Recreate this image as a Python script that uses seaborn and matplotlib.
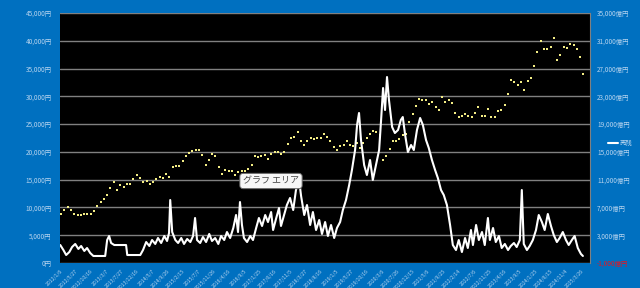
import numpy as np
import pandas as pd
import matplotlib
matplotlib.use("Agg")
import matplotlib.pyplot as plt
from matplotlib.lines import Line2D
import seaborn as sns

# ---------------- data ----------------
# yellow dots: stock price (left axis, 円), monthly readings per year
price_2012 = [8800, 9500, 10000, 9600, 8800, 8700, 8700, 8900, 8900, 8900, 9300, 10200]
price_2013 = [11000, 11500, 12200, 13500, 14500, 13200, 14000, 13600, 14300, 14300, 15200, 15900]
price_2014 = [15300, 14600, 14800, 14300, 14600, 15100, 15400, 15300, 16000, 15500, 17300, 17500]
price_2015 = [17400, 18300, 19200, 19800, 20200, 20400, 20400, 19500, 17700, 18600, 19700, 19300]
price_2016 = [17300, 16100, 16800, 16600, 16600, 15800, 16300, 16600, 16600, 17000, 17700, 19200]
price_2017 = [19100, 19200, 19400, 18700, 19600, 20000, 20000, 19600, 20000, 21500, 22500, 22700]
price_2018 = [23600, 21900, 21300, 22000, 22500, 22400, 22500, 22500, 23300, 22600, 21900, 20800]
price_2019 = [20300, 21000, 21300, 22000, 21200, 21100, 21600, 20700, 21600, 22500, 23300, 23700]
price_2020 = [23600, 23100, 18500, 19200, 20500, 22000, 22000, 22400, 23000, 23300, 25300, 26800]
price_2021 = [28200, 29500, 29300, 29300, 28600, 28900, 28000, 27600, 29800, 28900, 29300, 28800]
price_2022 = [27000, 26300, 26500, 26800, 26400, 26200, 27000, 28000, 26500, 26500, 27800, 26200]
price_2023 = [26200, 27400, 27500, 28400, 30500, 33000, 32600, 32000, 32600, 31100, 32800, 33300]
price_2024 = [35500, 38000, 40000, 38500, 38600, 38800, 40500, 36500, 37500, 38800, 38700, 39400]
price_2025 = [39300, 38500, 37000, 34000]

# white line: balance (right axis, 億円), decimal-year dates
flow_year = [
    2012.02, 2012.10, 2012.17, 2012.25, 2012.32, 2012.40, 2012.48, 2012.55, 2012.63, 2012.70,
    2012.78, 2012.86, 2012.96, 2013.06, 2013.16, 2013.21, 2013.26, 2013.31, 2013.39, 2013.54,
    2013.69, 2013.72, 2013.87, 2014.05, 2014.12, 2014.20, 2014.28, 2014.35, 2014.43, 2014.50,
    2014.58, 2014.66, 2014.73, 2014.78, 2014.81, 2014.86, 2014.94, 2015.01, 2015.09, 2015.16,
    2015.24, 2015.32, 2015.39, 2015.44, 2015.49, 2015.57, 2015.64, 2015.72, 2015.80, 2015.87,
    2015.95, 2016.03, 2016.10, 2016.18, 2016.25, 2016.33, 2016.41, 2016.48, 2016.53, 2016.58,
    2016.63, 2016.68, 2016.76, 2016.84, 2016.91, 2016.99, 2017.06, 2017.14, 2017.22, 2017.29,
    2017.37, 2017.42, 2017.50, 2017.57, 2017.62, 2017.70, 2017.77, 2017.85, 2017.93, 2018.00,
    2018.08, 2018.13, 2018.21, 2018.28, 2018.36, 2018.43, 2018.51, 2018.59, 2018.66, 2018.74,
    2018.81, 2018.89, 2018.97, 2019.04, 2019.12, 2019.19, 2019.27, 2019.35, 2019.42, 2019.50,
    2019.55, 2019.60, 2019.65, 2019.73, 2019.80, 2019.88, 2019.95, 2020.03, 2020.11, 2020.16,
    2020.21, 2020.26, 2020.31, 2020.36, 2020.44, 2020.51, 2020.59, 2020.66, 2020.71, 2020.77,
    2020.84, 2020.92, 2020.99, 2021.07, 2021.15, 2021.22, 2021.30, 2021.37, 2021.45, 2021.53,
    2021.60, 2021.68, 2021.75, 2021.83, 2021.91, 2021.98, 2022.06, 2022.13, 2022.21, 2022.29,
    2022.36, 2022.44, 2022.49, 2022.57, 2022.64, 2022.72, 2022.79, 2022.87, 2022.92, 2023.00,
    2023.07, 2023.15, 2023.22, 2023.30, 2023.38, 2023.45, 2023.53, 2023.60, 2023.68, 2023.73,
    2023.78, 2023.86, 2023.93, 2024.01, 2024.09, 2024.16, 2024.24, 2024.31, 2024.39, 2024.47,
    2024.54, 2024.62, 2024.69, 2024.77, 2024.85, 2024.92, 2025.00, 2025.07, 2025.15, 2025.23,
    2025.28,
]
flow_value = [
    1590, 870, 150, 580, 1300, 1740, 1020, 1450, 730, 1160,
    440, 10, 10, 10, 10, 2310, 2890, 1880, 1590, 1590,
    1590, 150, 150, 150, 870, 2020, 1450, 2310, 1740, 2600,
    1880, 2890, 2170, 3320, 8070, 3460, 2310, 1880, 2600, 1740,
    2460, 2020, 2890, 5480, 2310, 1880, 2740, 2020, 3180, 2170,
    2600, 1740, 2890, 2310, 3460, 2600, 4040, 5910, 3460, 7780,
    4470, 2600, 2020, 2890, 2310, 4040, 5480, 4330, 5910, 4900,
    6340, 3750, 5480, 6920, 4330, 5910, 7350, 8360, 6630, 9510,
    10950, 8650, 5910, 7350, 4470, 6340, 3750, 5190, 3180, 4900,
    2890, 4470, 2600, 4040, 4900, 6630, 8070, 10230, 12390, 15270,
    18870, 20600, 16710, 13110, 11670, 13830, 10950, 13110, 15270, 19590,
    24200, 21030, 25780, 22470, 18580, 17720, 18150, 19590, 20020, 17430,
    14980, 15990, 15270, 18150, 19880, 18870, 16710, 15560, 13830, 12390,
    11240, 9510, 8790, 7350, 4470, 1590, 870, 2310, 580, 2600,
    1160, 3750, 1590, 4470, 2310, 3460, 1590, 5480, 2310, 4040,
    2020, 2890, 1160, 1740, 870, 1450, 1880, 1300, 2310, 9510,
    1740, 870, 1450, 2310, 3750, 5910, 4900, 3750, 6060, 4330,
    3030, 2020, 2600, 3460, 2310, 1590, 2310, 2890, 1160, 300,
    10,
]

x_tick_labels = [
    "2012/1/6", "2012/5/27", "2012/10/16", "2013/3/7", "2013/7/27", "2013/12/16",
    "2014/5/7", "2014/9/26", "2015/2/15", "2015/7/7", "2015/11/26", "2016/4/16",
    "2016/9/5", "2017/1/25", "2017/6/16", "2017/11/5", "2018/3/27", "2018/8/16",
    "2019/1/5", "2019/5/27", "2019/10/16", "2020/3/6", "2020/7/26", "2020/12/15",
    "2021/5/6", "2021/9/25", "2022/2/14", "2022/7/6", "2022/11/25", "2023/4/16",
    "2023/9/5", "2024/1/25", "2024/6/15", "2024/11/4", "2025/3/26",
]
left_ticks = [0, 5000, 10000, 15000, 20000, 25000, 30000, 35000, 40000, 45000]
right_ticks = [-1000, 3000, 7000, 11000, 15000, 19000, 23000, 27000, 31000, 35000]
legend_label = "売残"
tooltip_text = "グラフ エリア"

# ---------------- build tables ----------------
price_years = {2012: price_2012, 2013: price_2013, 2014: price_2014, 2015: price_2015,
               2016: price_2016, 2017: price_2017, 2018: price_2018, 2019: price_2019,
               2020: price_2020, 2021: price_2021, 2022: price_2022, 2023: price_2023,
               2024: price_2024, 2025: price_2025}
rows = []
for yr, vals in price_years.items():
    for m, v in enumerate(vals):
        rows.append((yr + (m + 0.5) / 12.0, v))
price_df = pd.DataFrame(rows, columns=["t", "price"])
flow_df = pd.DataFrame({"t": flow_year, "flow": flow_value})

tick_dates = pd.to_datetime(x_tick_labels, format="%Y/%m/%d")
tick_pos = [d.year + (d.dayofyear - 1) / (366 if d.is_leap_year else 365) for d in tick_dates]

# ---------------- style ----------------
sns.set_theme(style="white")
plt.rcParams["font.family"] = ["Noto Sans CJK JP", "DejaVu Sans"]

BLUE = "#0070C0"
LABEL = "#b7d4ef"
GRID = "#808080"

fig = plt.figure(figsize=(6.4, 2.88), dpi=100, facecolor=BLUE)
ax = fig.add_axes([60 / 640, 1 - 263 / 288, 530 / 640, 250 / 288])
ax.set_facecolor("black")
ax2 = ax.twinx()

sns.scatterplot(data=price_df, x="t", y="price", ax=ax, color="#F2EC84",
                s=3, marker="s", linewidth=0, zorder=3, legend=False)
sns.lineplot(data=flow_df, x="t", y="flow", ax=ax2, color="white",
             linewidth=1.5, estimator=None, legend=False, zorder=4)

ax.set_xlim(2012.02, 2025.46)
ax.set_ylim(0, 45000)
ax2.set_ylim(-1000, 35000)

ax.set_yticks(left_ticks)
ax.set_yticklabels([f"{v:,}円" for v in left_ticks])
ax2.set_yticks(right_ticks)
ax2.set_yticklabels([f"{v:,}億円" for v in right_ticks])
for lbl, v in zip(ax2.get_yticklabels(), right_ticks):
    lbl.set_color("#e8141e" if v < 0 else LABEL)

ax.set_xticks(tick_pos)
ax.set_xticklabels(x_tick_labels, rotation=45, ha="right", rotation_mode="anchor")

ax.grid(axis="y", color=GRID, linewidth=1.0)
ax.grid(axis="x", visible=False)
ax2.grid(False)
ax.set_axisbelow(True)

ax.tick_params(axis="y", length=0, pad=6, labelsize=4.6, labelcolor=LABEL)
ax2.tick_params(axis="y", length=0, pad=5, labelsize=4.6)
ax.tick_params(axis="x", length=2, color=GRID, pad=2, labelsize=3.7, labelcolor=LABEL)
ax.set_xlabel("")
ax.set_ylabel("")
ax2.set_xlabel("")
ax2.set_ylabel("")

for sp in ax.spines.values():
    sp.set_visible(False)
for name, sp in ax2.spines.items():
    sp.set_visible(name == "right")
    sp.set_color(GRID)
    sp.set_linewidth(0.8)

# legend
handle = Line2D([0], [0], color="white", linewidth=1.5)
leg = fig.legend([handle], [legend_label], loc="center left",
                 bbox_to_anchor=(0.948, 1 - 143 / 288), frameon=False,
                 handlelength=1.5, handletextpad=0.3, fontsize=4.6,
                 borderpad=0.1, borderaxespad=0.1)
for t in leg.get_texts():
    t.set_color(LABEL)

# tooltip-like label
fig.text(271 / 640, 1 - 181 / 288, tooltip_text, ha="center", va="center",
         fontsize=6.5, color="#444444",
         bbox=dict(boxstyle="round,pad=0.35", fc="#f7f7f7", ec="#666666", lw=0.7),
         zorder=10)

fig.savefig("out.png", dpi=100, facecolor=BLUE)
